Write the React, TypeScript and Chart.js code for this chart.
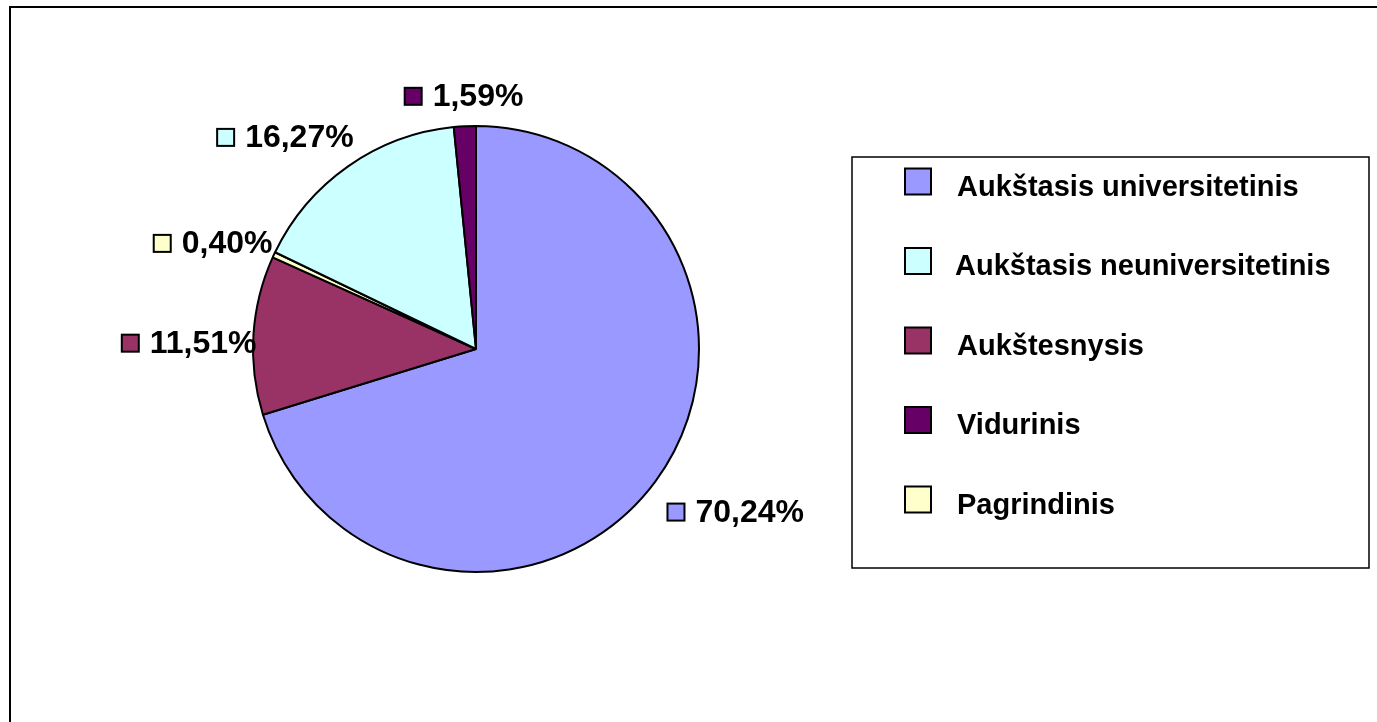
import React, { useEffect, useRef } from "react";
import { Chart, registerables } from "chart.js";

Chart.register(...registerables);

const categories = [
  "Aukštasis universitetinis",
  "Aukštesnysis",
  "Pagrindinis",
  "Aukštasis neuniversitetinis",
  "Vidurinis",
];
const values = [70.24, 11.51, 0.4, 16.27, 1.59];
const colors = ["#9999FF", "#993366", "#FFFFCC", "#CCFFFF", "#660066"];
const legendOrder = [0, 3, 1, 4, 2];
// layout only: radial gap and small nudges of each outside label
const labelGap = [34, 0, 11, 34, 17];
const labelNudgeX = [-2, 3, 3, -4, 3];
const labelNudgeY = [1, 9, 0, 12, 3];

const FONT = '"Liberation Sans", Arial, sans-serif';

const fmt = (v: number) => v.toFixed(2).replace(".", ",") + "%";

const decorPlugin = {
  id: "decor",
  beforeDraw(chart: any) {
    const ctx = chart.ctx;
    ctx.save();
    ctx.fillStyle = "#fff";
    ctx.fillRect(0, 0, chart.width, chart.height);
    ctx.strokeStyle = "#000";
    ctx.lineWidth = 2;
    ctx.strokeRect(10, 7, chart.width + 20, chart.height + 20);
    ctx.restore();
  },
  afterDatasetsDraw(chart: any) {
    const ctx = chart.ctx;
    const meta = chart.getDatasetMeta(0);
    ctx.save();
    ctx.font = `bold 32px ${FONT}`;
    ctx.textBaseline = "middle";
    ctx.textAlign = "left";
    const sw = 17;
    const gapSw = 11;
    const h = 32;
    meta.data.forEach((arc: any, i: number) => {
      const p = arc.getProps(["x", "y", "startAngle", "endAngle", "outerRadius"], true);
      const mid = (p.startAngle + p.endAngle) / 2;
      const dx = Math.cos(mid);
      const dy = Math.sin(mid);
      const text = fmt(values[i]);
      const tw = ctx.measureText(text).width;
      const w = sw + gapSw + tw;
      const d = p.outerRadius + labelGap[i];
      const cx = p.x + dx * d + dx * (w / 2) + labelNudgeX[i];
      const cy = p.y + dy * d + dy * (h / 2) + labelNudgeY[i];
      const left = cx - w / 2;
      ctx.fillStyle = colors[i];
      ctx.fillRect(left, cy - sw / 2, sw, sw);
      ctx.strokeStyle = "#000";
      ctx.lineWidth = 2;
      ctx.strokeRect(left, cy - sw / 2, sw, sw);
      ctx.fillStyle = "#000";
      ctx.fillText(text, left + sw + gapSw, cy + 1);
    });
    ctx.restore();
  },
  afterDraw(chart: any) {
    const ctx = chart.ctx;
    ctx.save();
    const bx = 852, by = 157, bw = 517, bh = 411;
    ctx.strokeStyle = "#000";
    ctx.lineWidth = 1.5;
    ctx.strokeRect(bx, by, bw, bh);
    ctx.font = `bold 29px ${FONT}`;
    ctx.textBaseline = "middle";
    ctx.textAlign = "left";
    const rowH = 79.5;
    const first = 181.5;
    legendOrder.forEach((idx, k) => {
      const cy = first + rowH * k;
      const sw = 26;
      const sx = 905;
      ctx.fillStyle = colors[idx];
      ctx.fillRect(sx, cy - sw / 2, sw, sw);
      ctx.strokeStyle = "#000";
      ctx.lineWidth = 2;
      ctx.strokeRect(sx, cy - sw / 2, sw, sw);
      ctx.fillStyle = "#000";
      ctx.fillText(categories[idx], idx === 3 ? 955 : 957, cy + 6);
    });
    ctx.restore();
  },
};

export default function App() {
  const ref = useRef<HTMLCanvasElement | null>(null);
  useEffect(() => {
    if (!ref.current) return;
    const chart = new Chart(ref.current, {
      type: "pie",
      data: {
        labels: categories,
        datasets: [
          {
            data: values,
            backgroundColor: colors,
            borderColor: "#000",
            borderWidth: 2,
          },
        ],
      },
      options: {
        responsive: false,
        animation: false,
        events: [],
        layout: { padding: { left: 252, top: 125, right: 677, bottom: 149 } },
        plugins: {
          legend: { display: false },
          tooltip: { enabled: false },
          title: { display: false },
        },
      },
      plugins: [decorPlugin],
    });
    return () => chart.destroy();
  }, []);
  return (
    <div style={{ position: "absolute", left: 0, top: 0, width: 1377, height: 722 }}>
      <canvas ref={ref} width={1377} height={722} style={{ display: "block" }} />
    </div>
  );
}
